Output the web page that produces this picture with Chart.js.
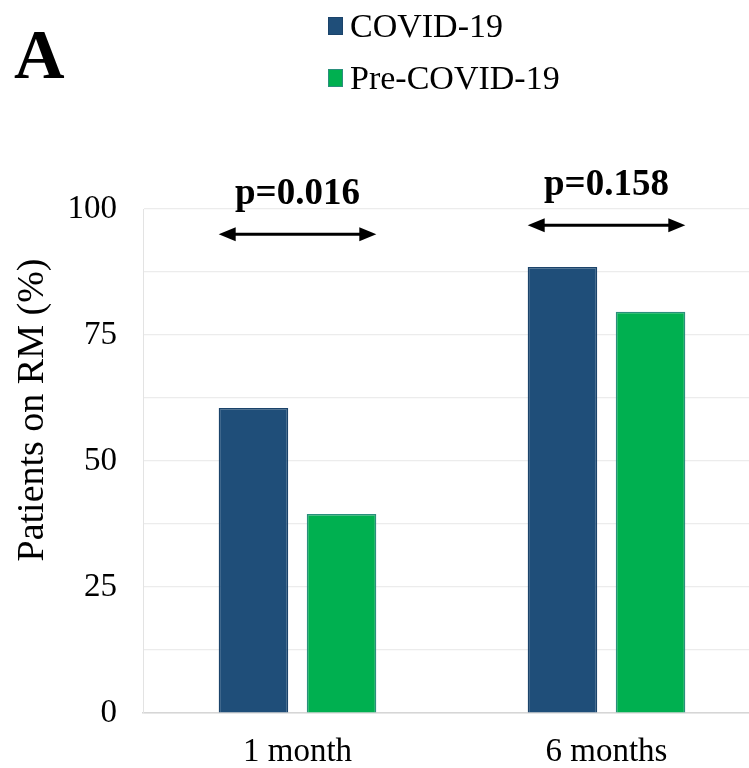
<!DOCTYPE html>
<html>
<head>
<meta charset="utf-8">
<script src="https://cdn.jsdelivr.net/npm/chart.js@4.4.1/dist/chart.umd.min.js"></script>
<style>
  html, body { margin: 0; padding: 0; background: #fff; overflow: hidden; }
  #wrap { position: relative; width: 765px; height: 768px; }
</style>
</head>
<body>
<div id="wrap"><canvas id="chart"></canvas></div>
<script>
// data
const categories = ["1 month", "6 months"];
const covid = [60.5, 88.5];
const preCovid = [39.5, 79.6];
const yTicks = [0, 25, 50, 75, 100];
const pLabels = ["p=0.016", "p=0.158"];
const arrowLevels = [95, 96.8];

const serif = "'Liberation Serif', 'Times New Roman', serif";

// draws panel letter, legend, axis title and the p-value arrows
const annotations = {
    id: "annotations",
    afterDraw(chart) {
        const ctx = chart.ctx;
        const y = chart.scales.y;
        ctx.save();

        // panel letter
        ctx.fillStyle = "#000";
        ctx.font = "bold 70px " + serif;
        ctx.textBaseline = "alphabetic";
        ctx.textAlign = "left";
        ctx.fillText("A", 14, 78);

        // legend, stacked
        ctx.font = "34px " + serif;
        chart.data.datasets.forEach((ds, i) => {
            const top = 17 + i * 52;
            ctx.fillStyle = ds.backgroundColor;
            ctx.fillRect(328, top, 15, 18);
            ctx.strokeStyle = ds.borderColor;
            ctx.lineWidth = 1;
            ctx.strokeRect(328.5, top + 0.5, 14, 17);
            ctx.fillStyle = "#000";
            ctx.fillText(ds.label, 350, top + 20);
        });

        // y axis title
        ctx.save();
        ctx.translate(43, 410);
        ctx.rotate(-Math.PI / 2);
        ctx.textAlign = "center";
        ctx.font = "38px " + serif;
        ctx.fillText("Patients on RM (%)", 0, 0);
        ctx.restore();

        // double arrows with p values
        const m0 = chart.getDatasetMeta(0).data;
        const m1 = chart.getDatasetMeta(1).data;
        pLabels.forEach((txt, i) => {
            const x1 = m0[i].x - m0[i].width / 2;
            const x2 = m1[i].x + m1[i].width / 2;
            const ay = y.getPixelForValue(arrowLevels[i]);
            const head = 17;
            ctx.strokeStyle = "#000";
            ctx.fillStyle = "#000";
            ctx.lineWidth = 3;
            ctx.beginPath();
            ctx.moveTo(x1 + head - 2, ay);
            ctx.lineTo(x2 - head + 2, ay);
            ctx.stroke();
            ctx.beginPath();
            ctx.moveTo(x1, ay);
            ctx.lineTo(x1 + head, ay - 7);
            ctx.lineTo(x1 + head, ay + 7);
            ctx.closePath();
            ctx.fill();
            ctx.beginPath();
            ctx.moveTo(x2, ay);
            ctx.lineTo(x2 - head, ay - 7);
            ctx.lineTo(x2 - head, ay + 7);
            ctx.closePath();
            ctx.fill();

            ctx.font = "bold 37px " + serif;
            ctx.textAlign = "center";
            ctx.fillText(txt, (x1 + x2) / 2, ay - 30);
        });

        ctx.restore();
    }
};

new Chart(document.getElementById("chart"), {
    type: "bar",
    data: {
        labels: categories,
        datasets: [
            {
                label: "COVID-19",
                data: covid,
                backgroundColor: "#1f4e79",
                borderColor: "#1b436a",
                borderWidth: 1.5
            },
            {
                label: "Pre-COVID-19",
                data: preCovid,
                backgroundColor: "#00b050",
                borderColor: "#2a8f7c",
                borderWidth: 1.5
            }
        ]
    },
    options: {
        responsive: true,
        maintainAspectRatio: false,
        animation: false,
        layout: { padding: { top: 209, right: 4, left: 0, bottom: 0 } },
        datasets: { bar: { categoryPercentage: 0.57, barPercentage: 0.79 } },
        plugins: {
            legend: { display: false },
            tooltip: { enabled: false }
        },
        scales: {
            x: {
                grid: { display: false, drawTicks: false },
                border: { display: true, color: "#d6d6d6", width: 1.5 },
                ticks: {
                    color: "#000",
                    font: { family: serif, size: 33 },
                    padding: 20
                },
                afterFit(scale) { scale.height = 55; }
            },
            y: {
                min: 0,
                max: 100,
                grid: { color: "#ececec", lineWidth: 1.2, drawTicks: false },
                border: { display: true, color: "#e3e3e3", width: 1 },
                ticks: {
                    stepSize: 12.5,
                    color: "#000",
                    font: { family: serif, size: 33 },
                    padding: 26,
                    callback: (v) => (yTicks.includes(v) ? v : "")
                },
                afterFit(scale) { scale.width = 143; }
            }
        }
    },
    plugins: [annotations]
});
</script>
</body>
</html>
